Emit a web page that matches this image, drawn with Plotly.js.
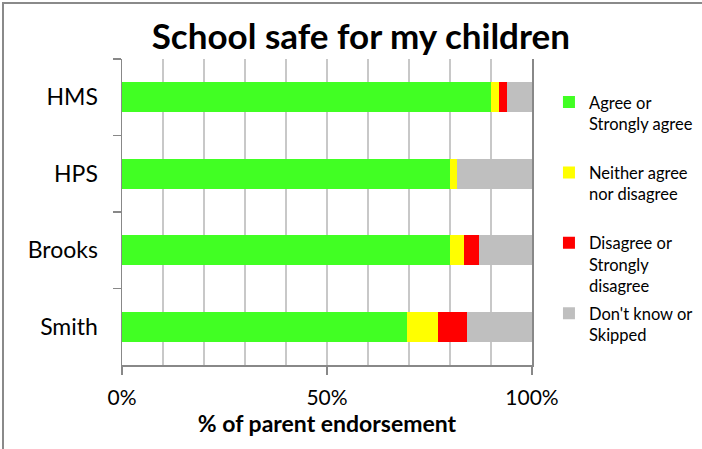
<!DOCTYPE html>
<html>
<head>
<meta charset="utf-8">
<script src="https://cdn.plot.ly/plotly-3.0.1.min.js"></script>
<style>
html,body{margin:0;padding:0;background:#fff;}
#wrap{position:relative;width:702px;height:449px;}
#chart{position:absolute;left:0;top:0;width:702px;height:449px;}
#frame{position:absolute;left:2px;top:2px;width:700px;height:447px;border-left:2px solid #8a8a8a;border-top:2px solid #8a8a8a;pointer-events:none;box-sizing:border-box;}
</style>
</head>
<body>
<div id="wrap"><div id="chart"></div><div id="frame"></div></div>
<script>
const schools = ["HMS", "HPS", "Brooks", "Smith"];
const agree = [90, 80, 80, 69.4];
const neither = [2, 1.8, 3.5, 7.7];
const disagree = [2, 0, 3.5, 7];
const dontKnow = [6, 18.2, 13, 15.9];
const seriesNames = ["Agree or<br>Strongly agree<br> ", "Neither agree<br>nor disagree<br> ", "Disagree or<br>Strongly<br>disagree", "Don't know or<br>Skipped<br> "];
const seriesColors = ["#41ff23", "#ffff00", "#ff0000", "#bfbfbf"];
const xTickVals = [0, 50, 100];
const xTickText = ["0%", "50%", "100%"];

const seriesValues = [agree, neither, disagree, dontKnow];
const font = "Lato, 'Open Sans', sans-serif";
const data = seriesValues.map((vals, i) => ({
  type: "bar",
  orientation: "h",
  y: schools,
  x: vals,
  name: seriesNames[i],
  legendgroup: "g" + i,
  marker: {color: seriesColors[i], line: {width: 0}},
  width: 0.39,
  hoverinfo: "x+y"
}));

const layout = {
  width: 702, height: 449,
  margin: {l: 122, r: 170, t: 59, b: 84, autoexpand: false},
  paper_bgcolor: "#fff", plot_bgcolor: "#fff",
  barmode: "stack",
  showlegend: true,
  font: {family: font, color: "#000"},
  title: {
    text: "<b>School safe for my children</b>",
    font: {family: font, size: 35, color: "#000"},
    xref: "container", x: 0.514, xanchor: "center",
    yref: "container", y: 0.918, yanchor: "middle"
  },
  xaxis: {
    range: [0, 100],
    tickvals: xTickVals, ticktext: xTickText,
    ticks: "outside", ticklen: 8, tickcolor: "#888", tickwidth: 1.5,
    showline: true, linecolor: "#888", linewidth: 1.5,
    showgrid: true, gridcolor: "#c8c8c8", gridwidth: 1.2,
    minor: {dtick: 10, showgrid: true, gridcolor: "#c8c8c8", gridwidth: 1.2},
    zeroline: false,
    tickfont: {family: font, size: 21, color: "#000"},
    ticklabelstandoff: 5,
    title: {text: "<b>% of parent endorsement</b>", font: {family: font, size: 23, color: "#000"}, standoff: 8},
    fixedrange: true
  },
  yaxis: {
    autorange: "reversed",
    type: "category",
    tickson: "boundaries",
    ticks: "outside", ticklen: 8, tickcolor: "#888", tickwidth: 1.5,
    showline: true, linecolor: "#888", linewidth: 1.5, mirror: true,
    showgrid: false, zeroline: false,
    tickfont: {family: font, size: 23, color: "#000"},
    ticklabelstandoff: 18,
    fixedrange: true
  },
  legend: {
    xref: "container", yref: "container",
    x: 0.782, xanchor: "left", y: 0.811, yanchor: "top",
    maxheight: 400,
    traceorder: "grouped",
    tracegroupgap: 3,
    valign: "top",
    itemwidth: 30,
    font: {family: font, size: 16.5, color: "#000"},
    bgcolor: "rgba(0,0,0,0)"
  }
};

Plotly.newPlot("chart", data, layout, {displayModeBar: false, staticPlot: true});
</script>
</body>
</html>
